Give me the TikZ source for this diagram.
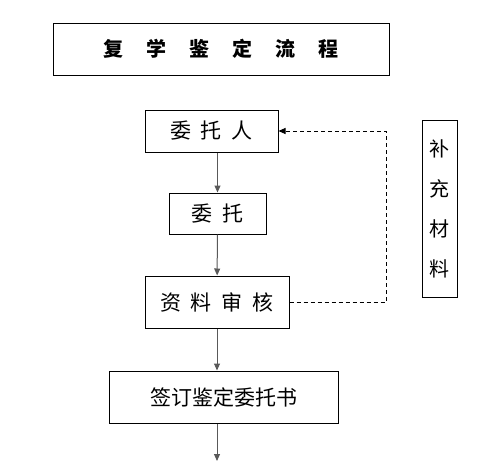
\documentclass[tikz,border=0pt]{standalone}
\usepackage{fontspec}
\usepackage{tikz}
\usetikzlibrary{arrows.meta,positioning}
\newfontfamily\cjk{Noto Sans CJK SC}
\definecolor{arrowgray}{gray}{0.35}
\newcommand{\gap}{\hspace{10pt}}

\begin{document}
\begin{tikzpicture}[
  x=1pt, y=1pt,
  font=\cjk\fontsize{21}{24}\selectfont,
  box/.style={rectangle, draw=black, line width=1pt, fill=white,
    align=center, inner sep=0pt},
  arrow/.style={-{Triangle[length=7pt,width=6pt]}, line width=1pt, draw=arrowgray},
  backarrow/.style={-{Triangle[length=7pt,width=6pt]}, line width=1pt, draw=black,
    dash pattern=on 4pt off 3pt}
]
\useasboundingbox (0,0) rectangle (493,-461);

\node[box, minimum width=336pt, minimum height=52pt, font=\cjk\bfseries\fontsize{20}{24}\selectfont]
  (title) at (221,-49) {复\hspace{23pt}学\hspace{23pt}鉴\hspace{23pt}定\hspace{23pt}流\hspace{23pt}程};

\node[box, minimum width=133pt, minimum height=42pt] (weituoren) at (211.5,-131) {委\gap 托\gap 人};
\node[box, minimum width=97pt, minimum height=41pt] (weituo) at (217.5,-213.5) {委\gap 托};
\node[box, minimum width=144pt, minimum height=52pt] (shenhe) at (217,-302) {资\gap 料\gap 审\gap 核};
\node[box, minimum width=229pt, minimum height=52pt] (qianding) at (223.5,-397) {签订鉴定委托书};

\node[box, minimum width=35pt, minimum height=177pt, font=\cjk\fontsize{20}{40}\selectfont]
  (buchong) at (439.5,-208.5) {补\\充\\材\\料};

\coordinate (bend) at (386,-131);
\coordinate (next) at (217,-461);

\draw[arrow] (weituoren.south -| weituo.north) -- (weituo);
\draw[arrow] (weituo) -- (shenhe);
\draw[arrow] (shenhe) -- (shenhe.south |- qianding.north);
\draw[arrow] (qianding.south -| shenhe.south) -- (next);

\draw[backarrow] (shenhe.east) -| (bend) -- (weituoren.east);

\end{tikzpicture}
\end{document}
